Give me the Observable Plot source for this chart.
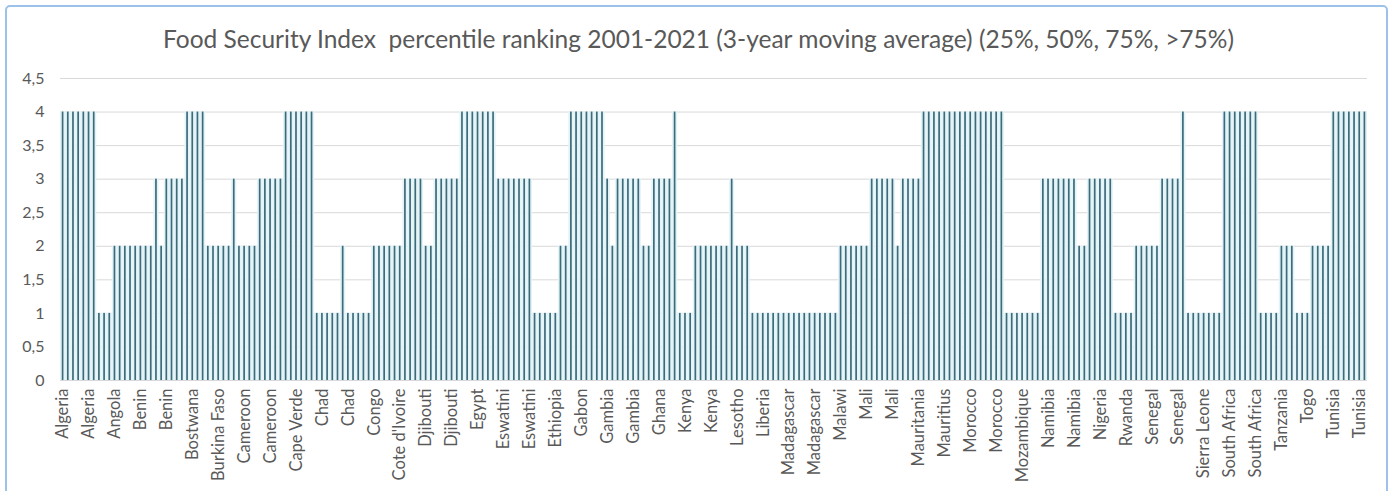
<!DOCTYPE html>
<html><head><meta charset="utf-8">
<script src="https://cdn.jsdelivr.net/npm/d3@7"></script>
<script src="https://cdn.jsdelivr.net/npm/@observablehq/plot@0.6"></script>
<style>
body{margin:0;background:#fff;overflow:hidden;}
#frame{position:absolute;left:5px;top:5px;width:1383px;height:520px;border:2px solid #9cc2ea;border-radius:5px;box-sizing:border-box;}
#title{position:absolute;left:0;width:1397px;top:24px;text-align:center;font-family:Lato;font-size:24.5px;color:#595959;white-space:pre;}
#chart{position:absolute;left:0;top:0;}
</style></head><body>
<div id="frame"></div>
<div id="title">Food Security Index  percentile ranking 2001-2021 (3-year moving average) (25%, 50%, 75%, &gt;75%)</div>
<div id="chart"></div>
<script>
const countries = ["Algeria","Angola","Benin","Bostwana","Burkina Faso","Cameroon","Cape Verde","Chad","Congo","Cote d'Ivoire","Djibouti","Egypt","Eswatini","Ethiopia","Gabon","Gambia","Ghana","Kenya","Lesotho","Liberia","Madagascar","Malawi","Mali","Mauritania","Mauritius","Morocco","Mozambique","Namibia","Nigeria","Rwanda","Senegal","Sierra Leone","South Africa","Tanzania","Togo","Tunisia"];
const periods = ["2001-03","2004-06","2007-09","2010-12","2013-15","2016-18","2019-21"];
const scores = [
  [4,4,4,4,4,4,4], // Algeria
  [1,1,1,2,2,2,2], // Angola
  [2,2,2,2,3,2,3], // Benin
  [3,3,3,4,4,4,4], // Bostwana
  [2,2,2,2,2,3,2], // Burkina Faso
  [2,2,2,3,3,3,3], // Cameroon
  [3,4,4,4,4,4,4], // Cape Verde
  [1,1,1,1,1,2,1], // Chad
  [1,1,1,1,2,2,2], // Congo
  [2,2,2,3,3,3,3], // Cote d'Ivoire
  [2,2,3,3,3,3,3], // Djibouti
  [4,4,4,4,4,4,4], // Egypt
  [3,3,3,3,3,3,3], // Eswatini
  [1,1,1,1,1,2,2], // Ethiopia
  [4,4,4,4,4,4,4], // Gabon
  [3,2,3,3,3,3,3], // Gambia
  [2,2,3,3,3,3,4], // Ghana
  [1,1,1,2,2,2,2], // Kenya
  [2,2,2,3,2,2,2], // Lesotho
  [1,1,1,1,1,1,1], // Liberia
  [1,1,1,1,1,1,1], // Madagascar
  [1,1,1,2,2,2,2], // Malawi
  [2,2,3,3,3,3,3], // Mali
  [2,3,3,3,3,4,4], // Mauritania
  [4,4,4,4,4,4,4], // Mauritius
  [4,4,4,4,4,4,4], // Morocco
  [1,1,1,1,1,1,1], // Mozambique
  [3,3,3,3,3,3,3], // Namibia
  [2,2,3,3,3,3,3], // Nigeria
  [1,1,1,1,2,2,2], // Rwanda
  [2,2,3,3,3,3,4], // Senegal
  [1,1,1,1,1,1,1], // Sierra Leone
  [4,4,4,4,4,4,4], // South Africa
  [1,1,1,1,2,2,2], // Tanzania
  [1,1,1,2,2,2,2], // Togo
  [4,4,4,4,4,4,4]  // Tunisia
];
const tickLabels = ["Algeria","Algeria","Angola","Benin","Benin","Bostwana","Burkina Faso","Cameroon","Cameroon","Cape Verde","Chad","Chad","Congo","Cote d'Ivoire","Djibouti","Djibouti","Egypt","Eswatini","Eswatini","Ethiopia","Gabon","Gambia","Gambia","Ghana","Kenya","Kenya","Lesotho","Liberia","Madagascar","Madagascar","Malawi","Mali","Mali","Mauritania","Mauritius","Morocco","Morocco","Mozambique","Namibia","Namibia","Nigeria","Rwanda","Senegal","Senegal","Sierra Leone","South Africa","South Africa","Tanzania","Togo","Tunisia","Tunisia"];
const yTicks = [0,0.5,1,1.5,2,2.5,3,3.5,4,4.5];

const data = countries.flatMap((c, ci) => scores[ci].map((v, k) => ({i: ci * periods.length + k, country: c, period: periods[k], v})));
const n = data.length;
const tickIdx = tickLabels.map((_, j) => j * 5);

const chart = Plot.plot({
  width: 1391, height: 491,
  marginLeft: 60, marginRight: 24, marginTop: 78, marginBottom: 111,
  style: {fontFamily: "Lato", background: "transparent", overflow: "visible"},
  x: {type: "band", domain: d3.range(n), padding: 0, axis: null},
  y: {domain: [0, 4.5], axis: null},
  marks: [
    Plot.gridY(yTicks, {stroke: "#d9d9d9", strokeOpacity: 1, strokeWidth: 1}),
    Plot.barY(data, {x: "i", y: "v", fill: "#e3f4f8"}),
    Plot.barY(data, {x: "i", y: "v", fill: "#3d6b79", insetLeft: 1.75, insetRight: 1.75}),
    Plot.axisY(yTicks, {label: null, tickSize: 0, tickPadding: 16, fontSize: 16, fill: "#595959",
      tickFormat: d => String(d).replace(".", ",")}),
    Plot.axisX(tickIdx, {label: null, tickSize: 0, tickPadding: 8, tickRotate: -90, fontSize: 16.5, fill: "#595959",
      tickFormat: d => tickLabels[tickIdx.indexOf(d)]})
  ]
});
document.getElementById("chart").appendChild(chart);
</script>
</body></html>
